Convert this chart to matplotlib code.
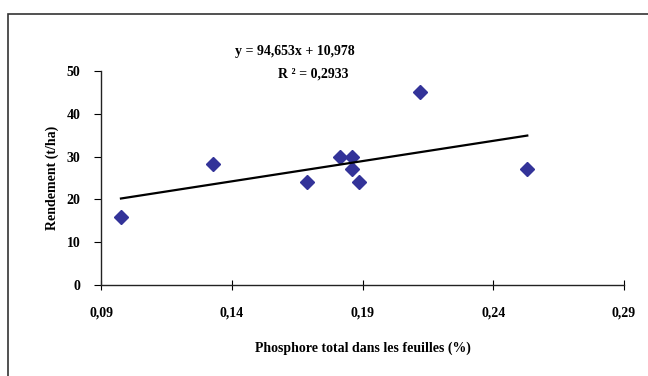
import numpy as np
import matplotlib
matplotlib.use("Agg")
import matplotlib.pyplot as plt
from matplotlib.patches import Rectangle

# data
phosphore = [0.0976, 0.1327, 0.1686, 0.1812, 0.1858, 0.1858, 0.1885, 0.2121, 0.2530]
rendement = [16.0, 28.2, 24.0, 30.0, 30.0, 27.0, 24.0, 45.0, 27.0]
slope, intercept = 94.653, 10.978
x_ticks = [0.09, 0.14, 0.19, 0.24, 0.29]
x_tick_labels = ["0,09", "0,14", "0,19", "0,24", "0,29"]
y_ticks = [0, 10, 20, 30, 40, 50]

plt.rcParams['font.family'] = ['Liberation Serif', 'DejaVu Serif']
plt.rcParams['font.weight'] = 'bold'

fig = plt.figure(figsize=(6.48, 3.76), dpi=100)
fig.patches.append(Rectangle((8 / 648, -0.1), 1.2, 1 - 14 / 376 + 0.1,
                             transform=fig.transFigure, fill=False,
                             edgecolor='#333333', linewidth=1.2))

ax = fig.add_axes([0.156, 0.242, 0.807, 0.569])
ax.plot(phosphore, rendement, linestyle='none', marker='D', markersize=7.5,
        color='#333399')

# linear trend line from Excel equation
xs = np.array([min(phosphore), max(phosphore)])
ax.plot(xs, slope * xs + intercept, color='black', linewidth=1.6)

ax.set_xlim(0.09, 0.29)
ax.set_ylim(0, 50)
ax.set_xticks(x_ticks)
ax.set_xticklabels(x_tick_labels)
ax.set_yticks(y_ticks)
for s in ['top', 'right']:
    ax.spines[s].set_visible(False)
for s in ['left', 'bottom']:
    ax.spines[s].set_linewidth(1.0)
    ax.spines[s].set_color('#222222')
ax.tick_params(axis='x', direction='inout', length=7, pad=12, labelsize=10)
ax.tick_params(axis='y', direction='out', length=5, pad=10, labelsize=10)
for lab in ax.get_xticklabels() + ax.get_yticklabels():
    lab.set_fontweight('bold')

ax.set_xlabel("Phosphore total dans les feuilles (%)", fontsize=10,
              fontweight='bold', labelpad=16)
ax.set_ylabel("Rendement (t/ha)", fontsize=10, fontweight='bold', labelpad=5)

fig.text(295 / 648, 1 - 52 / 376, "y = 94,653x + 10,978", ha='center',
         va='center', fontsize=10, fontweight='bold')
fig.text(313 / 648, 1 - 74 / 376, "R ² = 0,2933", ha='center',
         va='center', fontsize=10, fontweight='bold')

fig.savefig("out.png", dpi=100)
